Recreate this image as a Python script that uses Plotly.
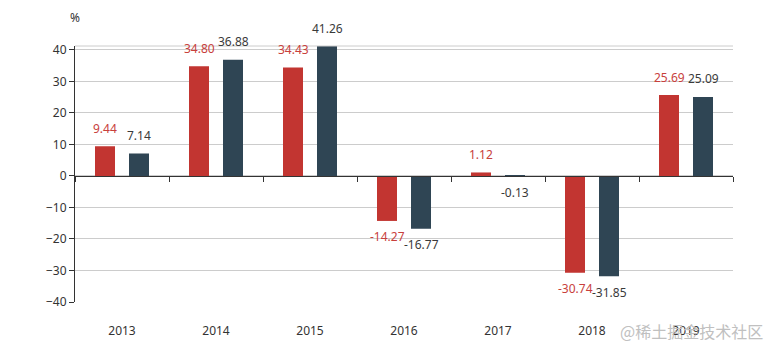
import plotly.graph_objects as go

years = ["2013", "2014", "2015", "2016", "2017", "2018", "2019"]
series_a = [9.44, 34.80, 34.43, -14.27, 1.12, -30.74, 25.69]
series_b = [7.14, 36.88, 41.26, -16.77, -0.13, -31.85, 25.09]
y_min, y_max = -40, 41.26

RED = "#c23531"
DARK = "#2f4554"
FONT = "Noto Sans, Open Sans, sans-serif"

fig = go.Figure()
fig.add_trace(go.Bar(x=years, y=series_a, marker_color=RED, marker_line_width=0, name="A"))
fig.add_trace(go.Bar(x=years, y=series_b, marker_color=DARK, marker_line_width=0, name="B"))
# invisible trace for the bottom label axis
fig.add_trace(go.Scatter(x=years, y=[0] * len(years), xaxis="x2", mode="markers",
                         marker=dict(opacity=0), hoverinfo="skip", showlegend=False))

annotations = []
for vals, color, xs in ((series_a, "#c8403c", -17), (series_b, "#3a3a3a", 17)):
    for i, v in enumerate(vals):
        annotations.append(dict(
            x=i, y=v, xref="x2", yref="y", text=f"{v:.2f}", showarrow=False,
            xshift=xs, yshift=18 if v >= 0 else -16,
            font=dict(size=12, color=color, family=FONT),
            xanchor="center", yanchor="middle"))

annotations.append(dict(x=0, y=1, xref="paper", yref="paper", text="%", showarrow=False,
                        yshift=29, xanchor="center", yanchor="middle",
                        font=dict(size=12, color="#333333", family=FONT)))
annotations.append(dict(x=1, y=0, xref="paper", yref="paper", text="@稀土掘金技术社区",
                        showarrow=False, xanchor="right", yanchor="middle",
                        xshift=32, yshift=-29,
                        font=dict(size=16, color="#c0c0c0", family="Noto Sans CJK SC")))

zero_pos = (0 - y_min) / (y_max - y_min)

fig.update_layout(
    width=778, height=352,
    margin=dict(l=75, r=45, t=46, b=50),
    paper_bgcolor="white", plot_bgcolor="white",
    showlegend=False,
    barmode="group", bargap=0.2766, bargroupgap=0.412,
    font=dict(family=FONT, size=12, color="#333333"),
    xaxis=dict(type="category", categoryorder="array", categoryarray=years,
               range=[-0.5, len(years) - 0.5],
               anchor="free", position=zero_pos,
               showline=True, linecolor="#333333", linewidth=1,
               ticks="outside", ticklen=5, tickcolor="#333333", tickson="boundaries",
               showticklabels=False, showgrid=False, zeroline=False),
    xaxis2=dict(type="category", categoryorder="array", categoryarray=years,
                range=[-0.5, len(years) - 0.5], overlaying="x", anchor="y", side="bottom",
                showline=False, showgrid=False, zeroline=False,
                ticks="outside", ticklen=18, tickcolor="rgba(0,0,0,0)",
                tickfont=dict(size=12, color="#333333")),
    yaxis=dict(range=[y_min, y_max], tick0=0, dtick=10, showline=True, linecolor="#333333",
               linewidth=1, ticks="outside", ticklen=5, tickcolor="#333333",
               showgrid=True, gridcolor="#cccccc", gridwidth=1, zeroline=False,
               tickfont=dict(size=12, color="#333333")),
    shapes=[dict(type="line", xref="paper", yref="paper", x0=0, x1=1, y0=1, y1=1,
                 line=dict(color="#cccccc", width=1))],
    annotations=annotations,
)

fig.write_html("out.html")
